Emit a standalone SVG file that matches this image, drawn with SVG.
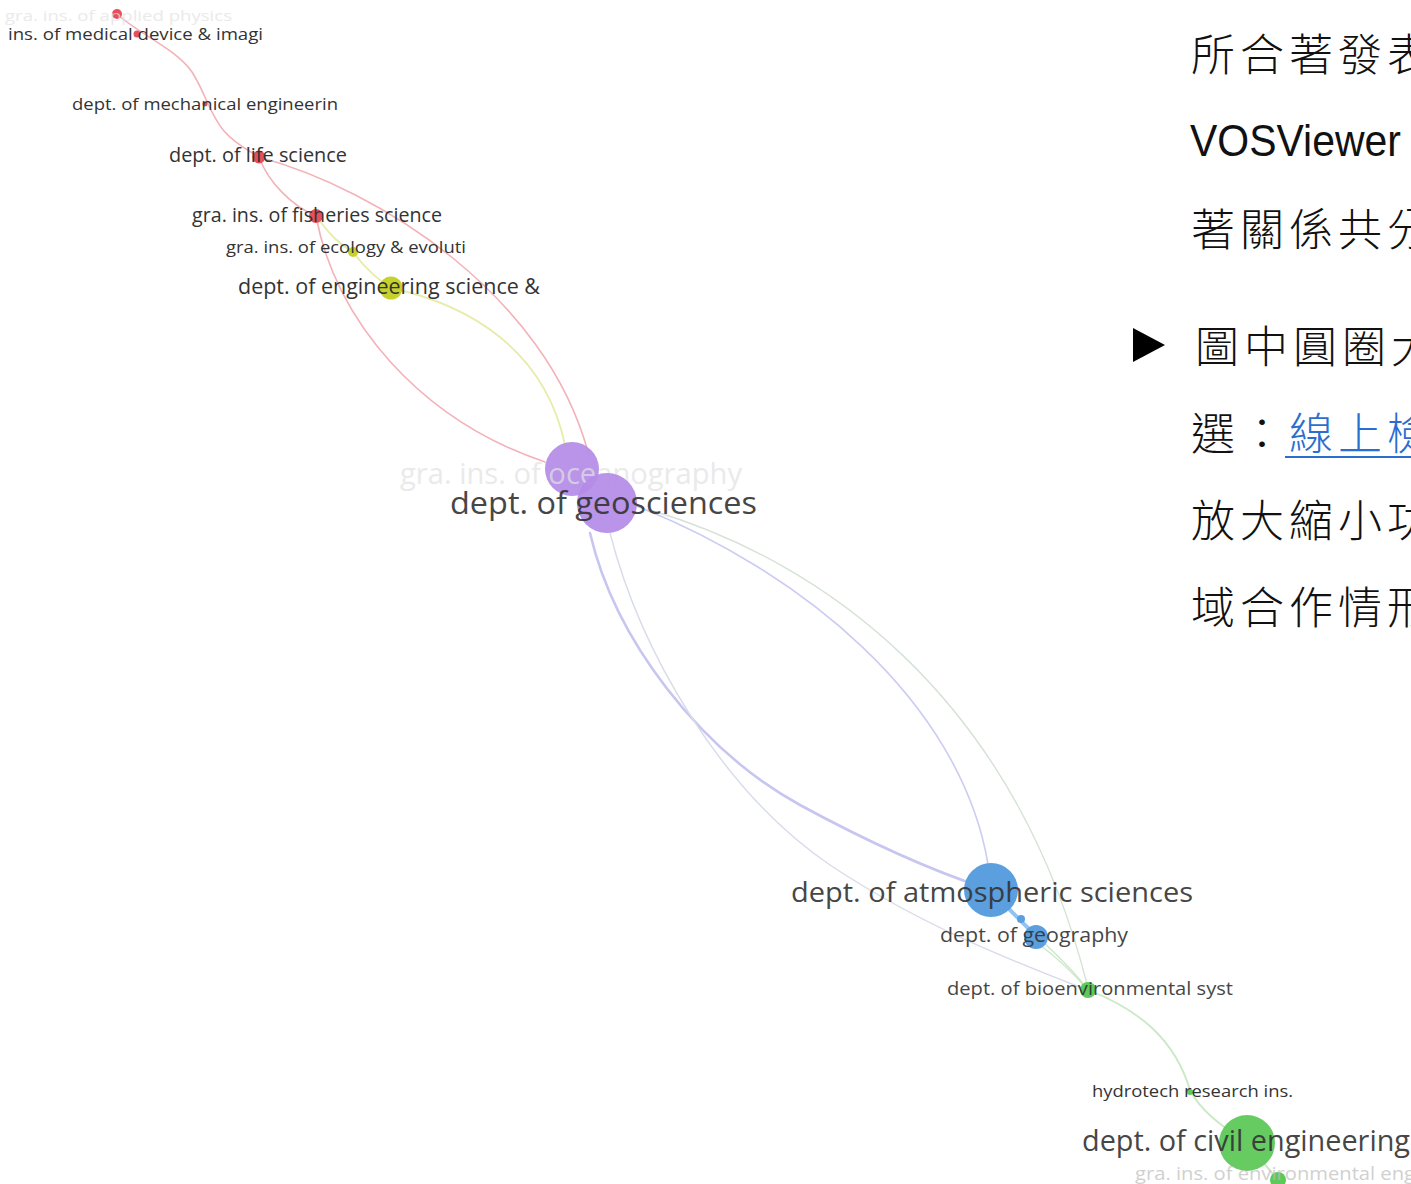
<svg xmlns="http://www.w3.org/2000/svg" width="1411" height="1184" viewBox="0 0 1411 1184">
<style>
.lbl{font-family:"Open Sans","Liberation Sans",sans-serif;fill:#333;}
.faint{font-family:"Open Sans","Liberation Sans",sans-serif;fill:#e2e2e2;opacity:0.7;}
.cjk{font-family:"Noto Sans CJK TC","Noto Sans CJK SC",sans-serif;font-size:44px;font-weight:300;letter-spacing:5px;fill:#111;}
.e{fill:none;stroke-linecap:round;}
.er{stroke:#f3b2b8;stroke-width:1.6;}
.ey{stroke:#e8ecab;stroke-width:1.8;}
.ep{stroke:#ccccf2;stroke-width:1.6;}
.eg{stroke:#cbe8c7;stroke-width:1.4;}
.red{fill:#e5505b;}
.yel{fill:#c6d22c;}
.pur{fill:#b38be6;opacity:0.92;}
.blu{fill:#5c9fdf;}
.grn{fill:#5cc95a;}
</style>
<rect width="1411" height="1184" fill="#fff"/>
<g id="connectors">
  <path class="e er" d="M117,14 C140,35 175,48 192,72 C205,92 210,115 224,131 C236,145 250,151 259,157"/>
  <path class="e er" d="M259,157 C268,182 292,206 316,216"/>
  <path class="e er" d="M259,157 C380,190 545,295 588,452"/>
  <path class="e er" d="M316,216 C335,320 420,420 545,462"/>
  <path class="e ey" d="M316,216 C330,235 340,245 353,252"/>
  <path class="e ey" d="M353,252 C365,268 378,280 391,288"/>
  <path class="e ey" d="M391,288 C470,305 545,350 565,445"/>
  <path class="e ep" style="stroke-width:2.6;stroke:#c6c6f0" d="M590,533 C615,640 700,750 800,805 C870,843 930,870 985,888"/>
  <path class="e eg" style="stroke:#d8dbea" d="M610,533 C640,650 720,790 830,865 C920,925 1010,960 1087,990"/>
  <path class="e ep" d="M634,505 C800,570 960,700 988,864"/>
  <path class="e eg" style="stroke:#d6e2d6" d="M650,510 C820,560 1015,695 1088,988"/>
  <path class="e eg" d="M1003,903 C1040,940 1070,965 1088,990"/>
  <path class="e eg" d="M1040,945 C1060,960 1075,975 1088,990"/>
  <path class="e" style="stroke:#93c3ef;stroke-width:4" d="M1000,900 L1036,936"/>
  <path class="e eg" style="stroke-width:1.8" d="M1088,990 C1140,1010 1175,1040 1190,1090 C1200,1110 1220,1125 1247,1143"/>
  <path class="e eg" style="stroke-width:2" d="M1247,1143 L1278,1180"/>
</g>
<g id="n-applied-physics"><circle class="red" cx="117" cy="14" r="5"/><text class="faint" x="5" y="21" font-size="15" textLength="227" lengthAdjust="spacingAndGlyphs">gra. ins. of applied physics</text></g>
<g id="n-medical-device"><circle class="red" cx="137" cy="34" r="3.5"/><text class="lbl" x="8" y="40" font-size="16" textLength="255" lengthAdjust="spacingAndGlyphs">ins. of medical device &amp; imagi</text></g>
<g id="n-mechanical"><circle class="red" cx="205" cy="104" r="2.5"/><text class="lbl" x="72" y="110" font-size="17" textLength="266" lengthAdjust="spacingAndGlyphs">dept. of mechanical engineerin</text></g>
<g id="n-life-science"><circle class="red" cx="259" cy="157" r="6.5"/><text class="lbl" x="169" y="162" font-size="20" textLength="178" lengthAdjust="spacingAndGlyphs">dept. of life science</text></g>
<g id="n-fisheries"><circle class="red" cx="316" cy="216" r="7"/><text class="lbl" x="192" y="222" font-size="20" textLength="250" lengthAdjust="spacingAndGlyphs">gra. ins. of fisheries science</text></g>
<g id="n-ecology"><circle class="yel" cx="353" cy="252" r="5"/><text class="lbl" x="226" y="253" font-size="16" textLength="240" lengthAdjust="spacingAndGlyphs">gra. ins. of ecology &amp; evoluti</text></g>
<g id="n-engineering-science"><circle class="yel" cx="391" cy="288" r="11.5"/><text class="lbl" x="238" y="294" font-size="22" textLength="302" lengthAdjust="spacingAndGlyphs">dept. of engineering science &amp;</text></g>
<g id="n-oceanography"><circle class="pur" cx="572" cy="469" r="27"/><text class="faint" x="400" y="484" font-size="30" textLength="342" lengthAdjust="spacingAndGlyphs">gra. ins. of oceanography</text></g>
<g id="n-geosciences"><circle class="pur" cx="607" cy="503" r="30"/><text class="lbl" x="450" y="514" font-size="31" textLength="307" lengthAdjust="spacingAndGlyphs" opacity="0.9">dept. of geosciences</text></g>
<g id="n-atmospheric"><circle class="blu" cx="991" cy="890" r="27"/><text class="lbl" x="791" y="902" font-size="28" textLength="402" lengthAdjust="spacingAndGlyphs" opacity="0.9">dept. of atmospheric sciences</text></g>
<g id="n-small-blue"><circle class="blu" cx="1021" cy="919" r="4"/></g>
<g id="n-geography"><circle class="blu" cx="1036" cy="937" r="12"/><text class="lbl" x="940" y="942" font-size="20" textLength="188" lengthAdjust="spacingAndGlyphs" opacity="0.9">dept. of geography</text></g>
<g id="n-bioenvironmental"><circle class="grn" cx="1088" cy="990" r="8"/><text class="lbl" x="947" y="995" font-size="18" textLength="286" lengthAdjust="spacingAndGlyphs" opacity="0.9">dept. of bioenvironmental syst</text></g>
<g id="n-hydrotech"><circle class="grn" cx="1190" cy="1092" r="3"/><text class="lbl" x="1092" y="1097" font-size="16" textLength="201" lengthAdjust="spacingAndGlyphs">hydrotech research ins.</text></g>
<g id="n-civil"><circle class="grn" cx="1247" cy="1143" r="28" style="fill:#66cc62"/><text class="lbl" x="1082" y="1151" font-size="30" textLength="328" lengthAdjust="spacingAndGlyphs" opacity="0.9">dept. of civil engineering</text></g>
<g id="n-env-eng"><circle class="grn" cx="1278" cy="1180" r="8"/><text class="faint" x="1135" y="1180" font-size="19" textLength="280" lengthAdjust="spacingAndGlyphs" style="fill:#bdbdbd">gra. ins. of environmental eng</text></g>
<g id="side-text">
  <text class="cjk" x="1191" y="71">所合著發表</text>
  <text x="1190" y="156" font-family="Liberation Sans, Arial, sans-serif" font-size="44" textLength="211" lengthAdjust="spacingAndGlyphs" fill="#111">VOSViewer</text>
  <text class="cjk" x="1191" y="246">著關係共分</text>
  <polygon points="1133,328 1165,345 1133,362" fill="#000"/>
  <text class="cjk" x="1195" y="363">圖中圓圈大</text>
  <text class="cjk" x="1191" y="450">選：<tspan fill="#2a6fd0">線上檢</tspan></text>
  <line x1="1285" y1="457" x2="1411" y2="457" stroke="#2a6fd0" stroke-width="2"/>
  <text class="cjk" x="1191" y="537">放大縮小功</text>
  <text class="cjk" x="1191" y="624">域合作情形</text>
</g>
</svg>
